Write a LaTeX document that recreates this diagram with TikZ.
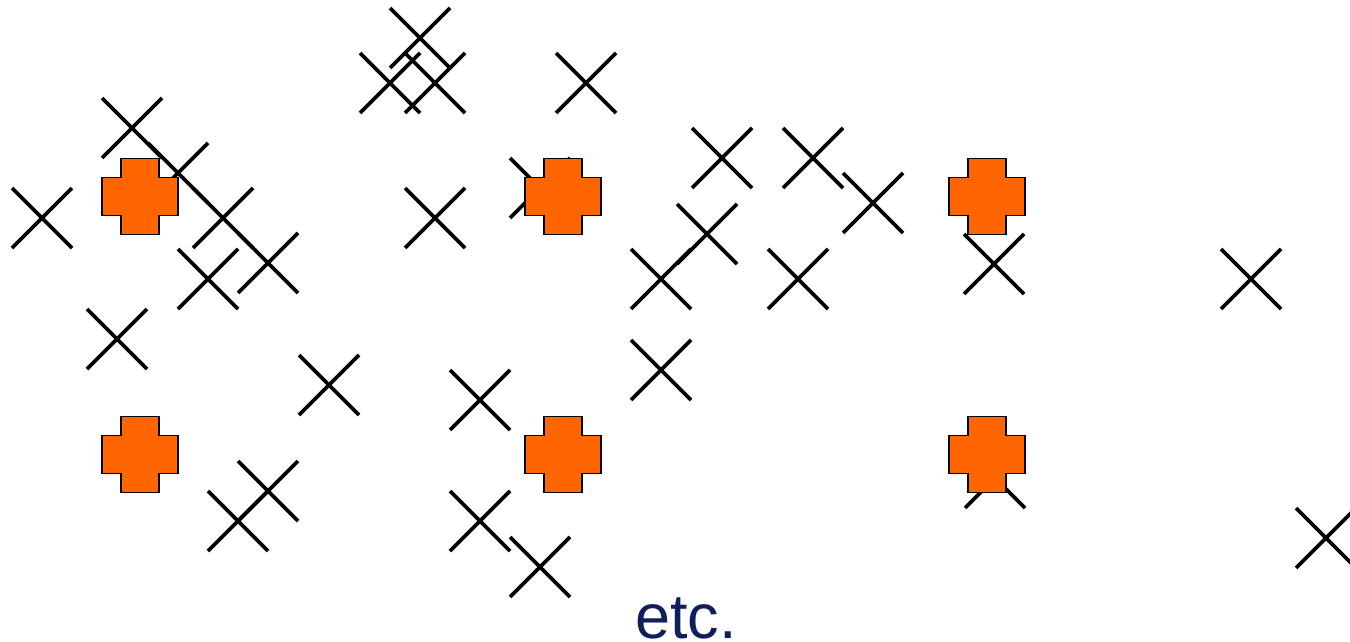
\documentclass[tikz,border=0pt]{standalone}
\usepackage{fontspec}
\setmainfont{Liberation Sans}
\usetikzlibrary{shapes.misc}
\definecolor{markorange}{RGB}{255,102,0}
\definecolor{labelnavy}{RGB}{15,31,92}
\tikzset{
  sample/.style={cross out, draw=black, line width=3.7pt, minimum size=60pt,
    inner sep=0pt, outer sep=0pt},
  centre/.pic={
    \filldraw[fill=markorange, draw=black, line width=1.5pt]
      (-19,-38) -- (19,-38) -- (19,-19) -- (38,-19) -- (38,19) -- (19,19)
      -- (19,38) -- (-19,38) -- (-19,19) -- (-38,19) -- (-38,-19) -- (-19,-19) -- cycle;
  },
  note/.style={text=labelnavy, font=\fontsize{63}{70}\selectfont, inner sep=0pt, anchor=base west}
}
\begin{document}
\begin{tikzpicture}[x=1pt, y=-1pt]
  \useasboundingbox (0,0) rectangle (1350,642);
  % data points
  \node[sample] (s1)  at (42,218) {};
  \node[sample] (s2)  at (132,128) {};
  \node[sample] (s3)  at (178,173) {};
  \node[sample] (s4)  at (223,218) {};
  \node[sample] (s5)  at (268,263) {};
  \node[sample] (s6)  at (208,279) {};
  \node[sample] (s7)  at (117,339) {};
  \node[sample] (s8)  at (329,385) {};
  \node[sample] (s9)  at (480,400) {};
  \node[sample] (s10) at (268,491) {};
  \node[sample] (s11) at (238,521) {};
  \node[sample] (s12) at (480,521) {};
  \node[sample] (s13) at (540,567) {};
  \node[sample] (s14) at (420,38) {};
  \node[sample] (s15) at (390,83) {};
  \node[sample] (s16) at (435,83) {};
  \node[sample] (s17) at (586,83) {};
  \node[sample] (s18) at (435,218) {};
  \node[sample] (s19) at (540,188) {};
  \node[sample] (s20) at (722,158) {};
  \node[sample] (s21) at (813,158) {};
  \node[sample] (s22) at (873,203) {};
  \node[sample] (s23) at (707,234) {};
  \node[sample] (s24) at (661,279) {};
  \node[sample] (s25) at (798,279) {};
  \node[sample] (s26) at (661,370) {};
  \node[sample] (s27) at (994,264) {};
  \node[sample] (s28) at (995,478) {};
  \node[sample] (s29) at (1251,279) {};
  \node[sample] (s30) at (1326,538) {};
  % cluster centres
  \pic (c1) at (140,196.5) {centre};
  \pic (c2) at (563,196.5) {centre};
  \pic (c3) at (987,196.5) {centre};
  \pic (c4) at (140,454.5) {centre};
  \pic (c5) at (563,454.5) {centre};
  \pic (c6) at (987,454.5) {centre};
  % caption
  \node[note] (etc) at (635,638) {etc.};
\end{tikzpicture}
\end{document}
